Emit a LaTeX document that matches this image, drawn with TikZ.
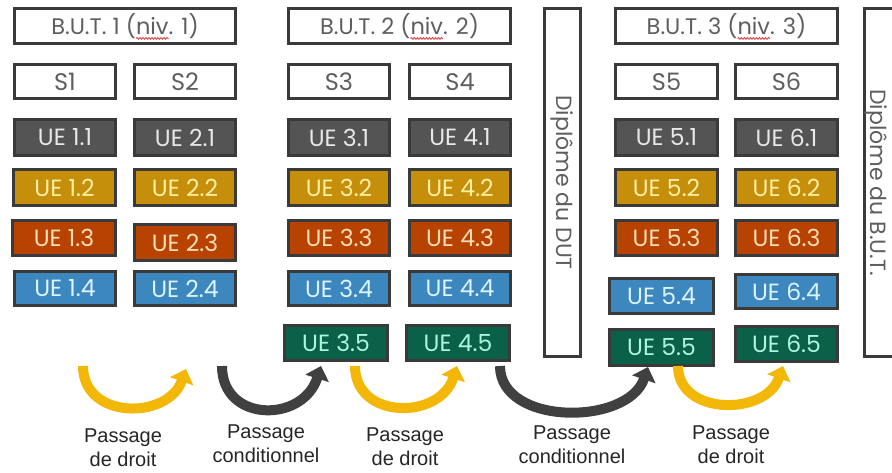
\documentclass[tikz,border=0pt]{standalone}
\usepackage{fontspec}
\setmainfont{Poppins}
\newfontfamily\arialf{Liberation Sans}
\usetikzlibrary{arrows.meta,decorations.pathmorphing}
\definecolor{bord}{HTML}{3A3A3A}
\definecolor{hdrtxt}{HTML}{5E5E5E}
\definecolor{ueAfill}{HTML}{545454}
\definecolor{ueAtxt}{HTML}{E8E8E8}
\definecolor{ueBfill}{HTML}{C58F0C}
\definecolor{ueBtxt}{HTML}{FFEFA0}
\definecolor{ueCfill}{HTML}{B84300}
\definecolor{ueCtxt}{HTML}{FFDDB8}
\definecolor{ueDfill}{HTML}{3D87BF}
\definecolor{ueDtxt}{HTML}{DDF3FF}
\definecolor{ueEfill}{HTML}{0B6049}
\definecolor{ueEtxt}{HTML}{AEF5DE}
\definecolor{yel}{HTML}{F3B807}
\definecolor{garr}{HTML}{404040}
\definecolor{squig}{HTML}{E04848}
\newcommand\hdrfont{\fontsize{22.5}{26}\selectfont}
\newcommand\semfont{\fontsize{24}{28}\selectfont}
\newcommand\uefont{\fontsize{23.5}{27}\selectfont}
\newcommand\dipfont{\fontsize{22}{25}\selectfont}
\newlength\LpreA \newlength\LallA
\newlength\LpreB \newlength\LallB
\newlength\LpreC \newlength\LallC
\newlength\Lniv
\newcommand\bx[7]{\node[#6, minimum width={#4-#2-3}, minimum height={#5-#3-3}] (#1) at ({(#2+#4)/2},{(#3+#5)/2}) {#7};}
\newcommand\squigl[3]{%
  \draw[squig, line width=0.9pt, decorate, decoration={snake,amplitude=0.9pt,segment length=3pt}]
    ([xshift=-0.5*#3+#2, yshift=-4pt]#1.base) -- ++(\Lniv,0);}
\tikzset{
  frame/.style={draw=bord, line width=3pt, fill=white, text=hdrtxt, inner sep=0pt, font=\hdrfont},
  sem/.style={frame, font=\semfont},
  ue/.style={draw=bord, line width=3pt, inner sep=0pt, font=\uefont},
  ueA/.style={ue, fill=ueAfill, text=ueAtxt},
  ueB/.style={ue, fill=ueBfill, text=ueBtxt},
  ueC/.style={ue, fill=ueCfill, text=ueCtxt},
  ueD/.style={ue, fill=ueDfill, text=ueDtxt},
  ueE/.style={ue, fill=ueEfill, text=ueEtxt},
  diptext/.style={rotate=-90, text=hdrtxt, font=\dipfont, inner sep=0pt},
  lbl/.style={font=\arialf\fontsize{20}{23.5}\selectfont, align=center, text=black!85, anchor=base, inner sep=0pt},
  yarrow/.style={draw=yel, line width=10pt, -{Triangle[width=24pt,length=13pt]}},
  garrow/.style={draw=garr, line width=10pt, -{Triangle[width=24pt,length=13pt]}}
}
\begin{document}
\settowidth\LpreA{\hdrfont B.U.T. 1 (}\settowidth\LallA{\hdrfont B.U.T. 1 (niv. 1)}%
\settowidth\LpreB{\hdrfont B.U.T. 2 (}\settowidth\LallB{\hdrfont B.U.T. 2 (niv. 2)}%
\settowidth\LpreC{\hdrfont B.U.T. 3 (}\settowidth\LallC{\hdrfont B.U.T. 3 (niv. 3)}%
\settowidth\Lniv{\hdrfont niv}%
\begin{tikzpicture}[x=1pt,y=-1pt]
\useasboundingbox (0,0) rectangle (892,472);
\clip (0,0) rectangle (892,472);
\fill[white] (0,0) rectangle (892,472);
% headers
\bx{h1}{13}{7}{237}{45}{frame}{B.U.T. 1 (niv. 1)}
\bx{h2}{287}{7}{512}{45}{frame}{B.U.T. 2 (niv. 2)}
\bx{h3}{614}{7}{839}{45}{frame}{B.U.T. 3 (niv. 3)}
\squigl{h1}{\LpreA}{\LallA}
\squigl{h2}{\LpreB}{\LallB}
\squigl{h3}{\LpreC}{\LallC}
% semesters
\bx{s1}{13}{63}{117}{100}{sem}{S1}
\bx{s2}{133}{63}{237}{100}{sem}{S2}
\bx{s3}{287}{63}{391}{100}{sem}{S3}
\bx{s4}{408}{63}{512}{100}{sem}{S4}
\bx{s5}{614}{63}{719}{100}{sem}{S5}
\bx{s6}{734}{63}{839}{100}{sem}{S6}
% diplomas
\bx{dut}{543}{7}{582}{358}{frame}{}
\node[diptext] (dutt) at (dut.center) {Diplôme du DUT};
\bx{dbut}{863}{7}{905}{358}{frame}{}
\node[diptext] (dbutt) at (876,182.5) {Diplôme du B.U.T.};
% row 1
\bx{u11}{13}{118}{117}{157}{ueA}{UE 1.1}
\bx{u21}{133}{118}{237}{157}{ueA}{UE 2.1}
\bx{u31}{287}{118}{391}{157}{ueA}{UE 3.1}
\bx{u41}{408}{118}{512}{157}{ueA}{UE 4.1}
\bx{u51}{614}{118}{719}{157}{ueA}{UE 5.1}
\bx{u61}{734}{118}{839}{157}{ueA}{UE 6.1}
% row 2
\bx{u12}{12}{168}{117}{207}{ueB}{UE 1.2}
\bx{u22}{133}{168}{237}{207}{ueB}{UE 2.2}
\bx{u32}{287}{168}{391}{207}{ueB}{UE 3.2}
\bx{u42}{408}{168}{512}{207}{ueB}{UE 4.2}
\bx{u52}{614}{168}{719}{207}{ueB}{UE 5.2}
\bx{u62}{734}{168}{839}{207}{ueB}{UE 6.2}
% row 3
\bx{u13}{11}{219}{117}{257}{ueC}{UE 1.3}
\bx{u23}{133}{223}{237}{262}{ueC}{UE 2.3}
\bx{u33}{287}{219}{391}{257}{ueC}{UE 3.3}
\bx{u43}{408}{219}{512}{257}{ueC}{UE 4.3}
\bx{u53}{614}{219}{719}{257}{ueC}{UE 5.3}
\bx{u63}{734}{219}{839}{257}{ueC}{UE 6.3}
% row 4
\bx{u14}{13}{270}{117}{307}{ueD}{UE 1.4}
\bx{u24}{133}{270}{237}{307}{ueD}{UE 2.4}
\bx{u34}{287}{270}{391}{307}{ueD}{UE 3.4}
\bx{u44}{408}{270}{512}{307}{ueD}{UE 4.4}
\bx{u54}{608}{277}{715}{315}{ueD}{UE 5.4}
\bx{u64}{734}{273}{839}{310}{ueD}{UE 6.4}
% row 5
\bx{u35}{283}{324}{389}{362}{ueE}{UE 3.5}
\bx{u45}{405}{324}{511}{362}{ueE}{UE 4.5}
\bx{u55}{608}{328}{715}{367}{ueE}{UE 5.5}
\bx{u65}{734}{325}{839}{363}{ueE}{UE 6.5}
% arrows
\coordinate (a1s) at (83,366);   \coordinate (a1e) at (186,369);
\coordinate (a2s) at (222,366);  \coordinate (a2e) at (321,366);
\coordinate (a3s) at (355,366);  \coordinate (a3e) at (457,366);
\coordinate (a4s) at (500,366);  \coordinate (a4e) at (648,367);
\coordinate (a5s) at (678,366);  \coordinate (a5e) at (783,366);
\draw[yarrow] (a1s) .. controls (83,420) and (168,420) .. (a1e);
\draw[garrow] (a2s) .. controls (222,423) and (303,423) .. (a2e);
\draw[yarrow] (a3s) .. controls (355,420) and (440,420) .. (a3e);
\draw[garrow] (a4s) .. controls (500,426) and (628,426) .. (a4e);
\draw[yarrow] (a5s) .. controls (678,416) and (766,416) .. (a5e);
% labels (base = last line)
\node[lbl] (l1) at (123,466) {Passage\\de droit};
\node[lbl] (l2) at (266,462) {Passage\\conditionnel};
\node[lbl] (l3) at (405,465) {Passage\\de droit};
\node[lbl] (l4) at (572,463) {Passage\\conditionnel};
\node[lbl] (l5) at (731,463) {Passage\\de droit};
\end{tikzpicture}
\end{document}
